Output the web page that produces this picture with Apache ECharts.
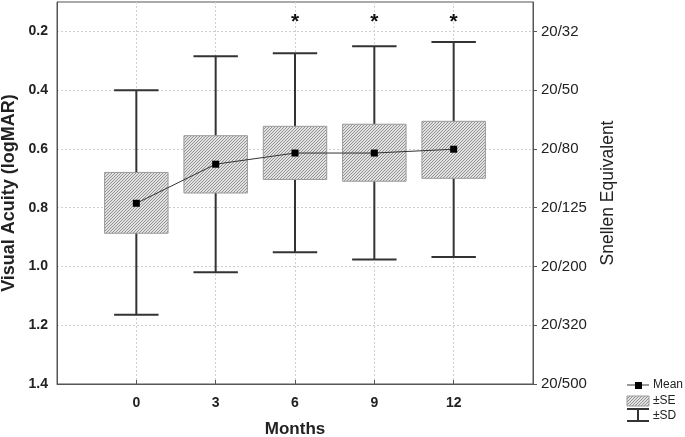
<!DOCTYPE html>
<html>
<head>
<meta charset="utf-8">
<script src="https://cdn.jsdelivr.net/npm/echarts@6/dist/echarts.min.js"></script>
<style>html,body{margin:0;padding:0;background:#fff;}#c{width:685px;height:437px;}</style>
</head>
<body>
<div id="c"></div>
<script>
// ---- data ----
const months = [0, 3, 6, 9, 12];
const meanVA = [0.785, 0.652, 0.614, 0.614, 0.601];
const seTop = [0.680, 0.555, 0.523, 0.516, 0.506];
const seBottom = [0.887, 0.750, 0.704, 0.710, 0.700];
const sdTop = [0.400, 0.285, 0.274, 0.251, 0.236];
const sdBottom = [1.164, 1.020, 0.952, 0.976, 0.968];
const significantMonths = [6, 9, 12];
const logmarTicks = [0.2, 0.4, 0.6, 0.8, 1.0, 1.2, 1.4];
const snellenLabels = ['20/32', '20/50', '20/80', '20/125', '20/200', '20/320', '20/500'];
const monthTicks = [0, 3, 6, 9, 12];

// ---- styles ----
const BOX_HALF = 1.2;   // months
const CAP_HALF = 0.84;  // months
const FONT = 'Liberation Sans, Arial, sans-serif';

const pc = document.createElement('canvas');
pc.width = 3; pc.height = 3;
const pctx = pc.getContext('2d');
pctx.fillStyle = '#e2e2e2'; pctx.fillRect(0, 0, 3, 3);
pctx.strokeStyle = '#8a8a8a'; pctx.lineWidth = 0.9;
pctx.beginPath();
pctx.moveTo(0, 3); pctx.lineTo(3, 0);
pctx.moveTo(-1, 1); pctx.lineTo(1, -1);
pctx.moveTo(2, 4); pctx.lineTo(4, 2);
pctx.stroke();
const hatch = { image: pc, repeat: 'repeat' };

const chart = echarts.init(document.getElementById('c'), null, { renderer: 'canvas' });

const sdData = months.map((m, i) => [m, sdTop[i], sdBottom[i]]);
const seData = months.map((m, i) => [m, seTop[i], seBottom[i]]);
const meanData = months.map((m, i) => [m, meanVA[i]]);
const starData = significantMonths.map(m => [m, 0.17]);

const option = {
  animation: false,
  backgroundColor: '#fff',
  grid: { left: 57, right: 152, top: 2, bottom: 53, show: true, borderColor: '#555', borderWidth: 1, outerBoundsMode: 'none', containLabel: false },
  xAxis: {
    type: 'value', min: -3, max: 15, interval: 3,
    name: 'Months', nameLocation: 'middle', nameGap: 37,
    nameTextStyle: { fontFamily: FONT, fontWeight: 'bold', fontSize: 17, color: '#222' },
    axisLine: { show: true, onZero: false, lineStyle: { color: '#555', width: 1 } },
    axisTick: { show: true, inside: true, length: 4, lineStyle: { color: '#555' } },
    axisLabel: {
      fontFamily: FONT, fontWeight: 'bold', fontSize: 14, color: '#222', margin: 12,
      formatter: v => (monthTicks.indexOf(v) >= 0 ? String(v) : '')
    },
    splitLine: { show: true, lineStyle: { color: '#d0d0d0', type: [2, 2], width: 1 } }
  },
  yAxis: [
    {
      type: 'value', min: 0.1, max: 1.4, inverse: true, position: 'left',
      name: 'Visual Acuity (logMAR)', nameLocation: 'middle', nameGap: 35, nameRotate: 90,
      nameTextStyle: { fontFamily: FONT, fontWeight: 'bold', fontSize: 18, color: '#222' },
      axisLine: { show: true, onZero: false, lineStyle: { color: '#555', width: 1 } },
      axisTick: { show: false, customValues: logmarTicks },
      axisLabel: {
        customValues: logmarTicks,
        fontFamily: FONT, fontWeight: 'bold', fontSize: 14, color: '#222', margin: 9,
        formatter: v => v.toFixed(1)
      },
      splitLine: { show: true, lineStyle: { color: '#d0d0d0', type: [2, 2], width: 1 } }
    },
    {
      type: 'value', min: 0.1, max: 1.4, inverse: true, position: 'right',
      name: 'Snellen Equivalent', nameLocation: 'middle', nameGap: 66, nameRotate: 90,
      nameTextStyle: { fontFamily: FONT, fontSize: 17.5, color: '#222' },
      axisLine: { show: true, onZero: false, lineStyle: { color: '#555', width: 1 } },
      axisTick: { show: true, customValues: logmarTicks, length: 4, lineStyle: { color: '#555' } },
      axisLabel: {
        customValues: logmarTicks,
        fontFamily: FONT, fontSize: 15, color: '#222', margin: 8,
        formatter: v => {
          const i = logmarTicks.findIndex(t => Math.abs(t - v) < 1e-6);
          return i >= 0 ? snellenLabels[i] : '';
        }
      },
      splitLine: { show: false }
    }
  ],
  series: [
    {
      name: '±SD', type: 'custom', data: sdData, z: 2,
      renderItem: (params, api) => {
        const x = api.value(0);
        const a = api.coord([x, api.value(1)]);
        const b = api.coord([x, api.value(2)]);
        const half = api.size([CAP_HALF, 0])[0];
        const st = { stroke: '#333', lineWidth: 2 };
        return {
          type: 'group', children: [
            { type: 'line', shape: { x1: a[0], y1: a[1], x2: b[0], y2: b[1] }, style: st },
            { type: 'line', shape: { x1: a[0] - half, y1: a[1], x2: a[0] + half, y2: a[1] }, style: st },
            { type: 'line', shape: { x1: b[0] - half, y1: b[1], x2: b[0] + half, y2: b[1] }, style: st }
          ]
        };
      }
    },
    {
      name: '±SE', type: 'custom', data: seData, z: 3,
      renderItem: (params, api) => {
        const x = api.value(0);
        const p1 = api.coord([x - BOX_HALF, api.value(1)]);
        const p2 = api.coord([x + BOX_HALF, api.value(2)]);
        return {
          type: 'rect',
          shape: { x: p1[0], y: p1[1], width: p2[0] - p1[0], height: p2[1] - p1[1] },
          style: { fill: hatch, stroke: '#9a9a9a', lineWidth: 1 }
        };
      }
    },
    {
      name: 'Mean', type: 'line', data: meanData, z: 4,
      symbol: 'rect', symbolSize: 7,
      lineStyle: { color: '#333', width: 1 },
      itemStyle: { color: '#000' }
    },
    {
      name: 'sig', type: 'custom', data: starData, z: 5,
      renderItem: (params, api) => {
        const p = api.coord([api.value(0), api.value(1)]);
        return {
          type: 'text',
          x: p[0], y: p[1],
          style: { text: '*', fontFamily: FONT, fontWeight: 'bold', fontSize: 21, fill: '#111', align: 'center', verticalAlign: 'middle' }
        };
      }
    }
  ],
  graphic: [
    { type: 'line', shape: { x1: 627, y1: 385, x2: 649, y2: 385 }, style: { stroke: '#333', lineWidth: 1 } },
    { type: 'rect', shape: { x: 635, y: 382, width: 7, height: 7 }, style: { fill: '#000' } },
    { type: 'text', x: 653, y: 385, style: { text: 'Mean', fontFamily: FONT, fontSize: 12, fill: '#222', verticalAlign: 'middle' } },
    { type: 'rect', shape: { x: 627, y: 396, width: 22, height: 10 }, style: { fill: hatch, stroke: '#9a9a9a', lineWidth: 1 } },
    { type: 'text', x: 653, y: 401, style: { text: '±SE', fontFamily: FONT, fontSize: 12, fill: '#222', verticalAlign: 'middle' } },
    { type: 'line', shape: { x1: 627, y1: 409, x2: 649, y2: 409 }, style: { stroke: '#333', lineWidth: 2 } },
    { type: 'line', shape: { x1: 638, y1: 409, x2: 638, y2: 421 }, style: { stroke: '#333', lineWidth: 2 } },
    { type: 'line', shape: { x1: 627, y1: 421, x2: 649, y2: 421 }, style: { stroke: '#333', lineWidth: 2 } },
    { type: 'text', x: 653, y: 416, style: { text: '±SD', fontFamily: FONT, fontSize: 12, fill: '#222', verticalAlign: 'middle' } }
  ]
};
chart.setOption(option);
</script>
</body>
</html>
